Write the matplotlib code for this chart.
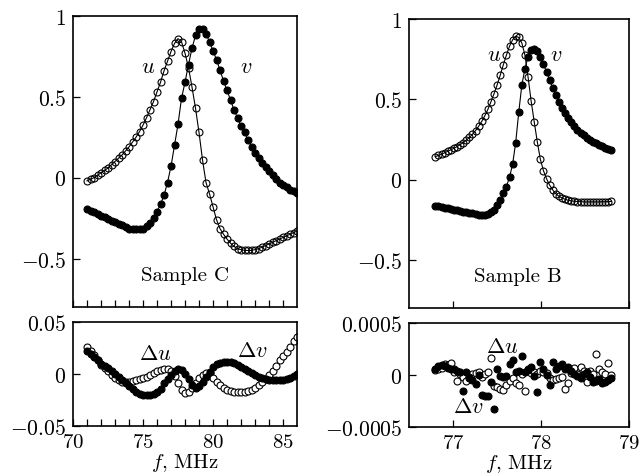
import numpy as np
import matplotlib
matplotlib.use('Agg')
import matplotlib.pyplot as plt

plt.rcParams['font.family'] = 'cmr10'
plt.rcParams['mathtext.fontset'] = 'cm'
plt.rcParams['axes.unicode_minus'] = False

# ---- Sample C (uniform frequency sweep, 0.25 MHz step) ----
f_C = np.linspace(71.0, 86.0, 61)
u_C = [-0.02, -0.01, 0.00, 0.015, 0.03, 0.045, 0.06, 0.08, 0.10, 0.12,
       0.14, 0.165, 0.19, 0.22, 0.25, 0.285, 0.325, 0.37, 0.42, 0.47,
       0.53, 0.59, 0.66, 0.72, 0.78, 0.83, 0.86, 0.84, 0.77, 0.68,
       0.56, 0.43, 0.28, 0.11, -0.03, -0.10, -0.18, -0.26, -0.315, -0.35,
       -0.38, -0.405, -0.425, -0.44, -0.445, -0.45, -0.45, -0.45, -0.445, -0.44,
       -0.43, -0.42, -0.41, -0.40, -0.39, -0.38, -0.37, -0.36, -0.35, -0.34,
       -0.33]
v_C = [-0.195, -0.205, -0.215, -0.225, -0.235, -0.245, -0.255, -0.265, -0.275, -0.285,
       -0.295, -0.305, -0.315, -0.32, -0.32, -0.32, -0.315, -0.30, -0.28, -0.25,
       -0.21, -0.165, -0.11, -0.03, 0.07, 0.20, 0.33, 0.49, 0.59, 0.70,
       0.80, 0.88, 0.92, 0.92, 0.89, 0.84, 0.785, 0.73, 0.665, 0.60,
       0.54, 0.48, 0.42, 0.37, 0.32, 0.28, 0.235, 0.19, 0.155, 0.12,
       0.09, 0.065, 0.04, 0.015, -0.01, -0.03, -0.045, -0.06, -0.075, -0.085,
       -0.095]
du_C = [0.026, 0.022, 0.018, 0.013, 0.009, 0.006, 0.003, -0.001, -0.004, -0.006,
        -0.0075, -0.008, -0.008, -0.007, -0.006, -0.005, -0.004, -0.003, -0.001, 0.001,
        0.003, 0.004, 0.005, 0.005, 0.003, -0.002, -0.009, -0.015, -0.018, -0.017,
        -0.013, -0.009, -0.004, -0.001, 0.001, 0.001, -0.004, -0.008, -0.011, -0.013,
        -0.015, -0.016, -0.017, -0.017, -0.017, -0.017, -0.016, -0.015, -0.013, -0.011,
        -0.008, -0.005, -0.001, 0.003, 0.008, 0.013, 0.017, 0.021, 0.026, 0.032,
        0.036]
dv_C = [0.022, 0.019, 0.016, 0.013, 0.010, 0.008, 0.006, 0.003, 0.000, -0.003,
        -0.006, -0.009, -0.012, -0.0145, -0.017, -0.019, -0.020, -0.020, -0.020, -0.019,
        -0.017, -0.014, -0.009, -0.005, -0.001, 0.003, 0.005, 0.004, 0.000, -0.005,
        -0.011, -0.013, -0.012, -0.008, -0.003, 0.002, 0.007, 0.0095, 0.011, 0.012,
        0.012, 0.012, 0.011, 0.009, 0.007, 0.005, 0.003, 0.001, -0.001, -0.0025,
        -0.004, -0.005, -0.006, -0.006, -0.006, -0.006, -0.0055, -0.005, -0.004, -0.002,
        0.000]

# ---- Sample B (uniform frequency sweep, ~0.035 MHz step) ----
f_B = np.linspace(76.80, 78.80, 58)
u_B = [0.143, 0.150, 0.158, 0.167, 0.176, 0.185, 0.195, 0.205, 0.217, 0.230,
       0.245, 0.262, 0.282, 0.305, 0.332, 0.362, 0.397, 0.437, 0.485, 0.535,
       0.590, 0.650, 0.715, 0.775, 0.830, 0.870, 0.893, 0.885, 0.850, 0.775,
       0.640, 0.490, 0.360, 0.235, 0.125, 0.055, 0.005, -0.035, -0.065, -0.088,
       -0.104, -0.115, -0.123, -0.129, -0.133, -0.135, -0.137, -0.138, -0.139, -0.139,
       -0.139, -0.139, -0.139, -0.139, -0.138, -0.138, -0.137, -0.136]
v_B = [-0.163, -0.167, -0.171, -0.175, -0.179, -0.183, -0.187, -0.191, -0.195, -0.199,
       -0.203, -0.207, -0.211, -0.215, -0.218, -0.220, -0.220, -0.214, -0.204, -0.188,
       -0.160, -0.125, -0.085, -0.045, 0.015, 0.095, 0.230, 0.420, 0.590, 0.690,
       0.765, 0.805, 0.815, 0.800, 0.765, 0.720, 0.670, 0.620, 0.570, 0.525,
       0.485, 0.448, 0.415, 0.385, 0.358, 0.333, 0.311, 0.292, 0.275, 0.260,
       0.247, 0.235, 0.225, 0.215, 0.206, 0.199, 0.193, 0.187]
du_B = [5e-5, 6e-5, 6.4e-5, 10.6e-5, 9.6e-5, 11.5e-5, 2.6e-5, -5.5e-5, 1e-5, -2e-5,
        -5.5e-5, -3e-5, 1e-5, 2e-5, 3.2e-5, -2.2e-5, 1e-5, 3.2e-5, 16e-5, -11e-5,
        -12e-5, -13.5e-5, -14e-5, -10e-5, -6e-5, -3e-5, -8e-5, -10e-5, 1e-5, -15e-5,
        5.8e-5, 2e-5, 3e-5, 1e-5, 4.2e-5, 3.2e-5, 2e-5, -3e-5, -4.5e-5, -4e-5,
        -3e-5, -2.2e-5, -13.5e-5, -7.7e-5, 2e-5, 6.4e-5, 1e-5, 7.4e-5, 4e-5, -7e-5,
        4.2e-5, 1e-5, 20e-5, 6e-5, 2.6e-5, 1e-5, 11.5e-5, 0.0]
dv_B = [5.8e-5, 9e-5, 9.6e-5, 8.4e-5, 6.4e-5, 5.8e-5, 5.8e-5, 4.2e-5, 3e-5, -15e-5,
        2.6e-5, -2e-5, -5e-5, -8.6e-5, 0.0, -19e-5, -20e-5, -20e-5, -7e-5, -33e-5,
        5.8e-5, -1e-5, -2e-5, -1e-5, 10.6e-5, 14e-5, 3e-5, 4.2e-5, 18.6e-5, 2.6e-5,
        5e-5, 7.4e-5, -0.6e-5, -16.6e-5, 12.8e-5, 5.8e-5, 0.0, -9.6e-5, 12.8e-5, 5.8e-5,
        9e-5, 10.6e-5, 5.8e-5, 7.4e-5, 4e-5, 1e-5, -0.6e-5, -3e-5, 1e-5, 2.6e-5,
        -2e-5, -6.4e-5, -5.5e-5, -4e-5, -7.7e-5, -6.4e-5, -5e-5, -3e-5]

FS = 15.5   # y tick labels
XS = 15     # x tick labels
TS = 15     # annotations
MS = 5.0
W, H = 641, 477


def box(x0, y0, x1, y1):
    # pixel box (top-left origin) -> figure fraction rect
    return [x0 / W, 1 - y1 / H, (x1 - x0) / W, (y1 - y0) / H]


def style(ax):
    for s in ax.spines.values():
        s.set_linewidth(1.2)
    ax.tick_params(which='both', direction='in', length=5, width=0.9,
                   labelsize=FS, top=False, right=False, pad=5)
    ax.tick_params(axis='x', labelsize=XS)


fig = plt.figure(figsize=(6.41, 4.77), dpi=100)

panels = [
    dict(rt=box(73, 17, 297, 308), rb=box(73, 323, 297, 427),
         f=f_C, u=u_C, v=v_C, du=du_C, dv=dv_C, xlim=(70, 86),
         minor=list(range(71, 86)), major=[70, 75, 80, 85], lim=0.05,
         name='Sample C', tpos=[(75.36, 0.69), (82.36, 0.69), (78.0, -0.60)],
         bpos=[(75.86, 0.0197), (82.8, 0.0226)], blab=['0.05', '0', '-0.05']),
    dict(rt=box(409, 20, 629, 309), rb=box(409, 324, 629, 428),
         f=f_B, u=u_B, v=v_B, du=du_B, dv=dv_B, xlim=(76.5, 79),
         minor=[], major=[77, 78, 79], lim=0.0005,
         name='Sample B', tpos=[(77.47, 0.78), (78.17, 0.78), (77.74, -0.60)],
         bpos=[(77.56, 0.00028), (77.17, -0.0003)], blab=['0.0005', '0', '-0.0005']),
]

for p in panels:
    ax = fig.add_axes(p['rt'])
    ax.plot(p['f'], p['u'], '-', color='k', lw=0.8, marker='o', ms=MS,
            mfc='none', mec='k', mew=0.8)
    ax.plot(p['f'], p['v'], '-', color='k', lw=0.8, marker='o', ms=MS,
            mfc='k', mec='k', mew=0.8)
    ax.set_xlim(*p['xlim'])
    ax.set_ylim(-0.8, 1.0)
    ax.set_xticks(p['major'])
    ax.set_xticks(p['minor'], minor=True)
    ax.set_xticklabels([])
    ax.set_yticks([-0.5, 0, 0.5, 1])
    ax.set_yticklabels([r'$-0.5$', r'$0$', r'$0.5$', r'$1$'])
    style(ax)
    ax.text(*p['tpos'][0], r'$u$', fontsize=TS + 1, ha='center', va='center')
    ax.text(*p['tpos'][1], r'$v$', fontsize=TS + 1, ha='center', va='center')
    ax.text(*p['tpos'][2], p['name'], fontsize=TS, ha='center', va='center')

    bx = fig.add_axes(p['rb'])
    bx.plot(p['f'], p['du'], 'o', ms=MS, mfc='white', mec='k', mew=0.8)
    bx.plot(p['f'], p['dv'], 'o', ms=MS, mfc='k', mec='k', mew=0.8)
    bx.set_xlim(*p['xlim'])
    bx.set_ylim(-p['lim'], p['lim'])
    bx.set_xticks(p['major'], labels=[r'$%d$' % t for t in p['major']])
    bx.set_xticks(p['minor'], minor=True)
    bx.set_yticks([p['lim'], 0, -p['lim']])
    bx.set_yticklabels([r'$%s$' % s for s in p['blab']])
    style(bx)
    bx.text(*p['bpos'][0], r'$\Delta u$', fontsize=TS + 1, ha='center', va='center')
    bx.text(*p['bpos'][1], r'$\Delta v$', fontsize=TS + 1, ha='center', va='center')
    bx.set_xlabel(r'$f$, MHz', fontsize=TS, labelpad=0)

fig.savefig('out.png', dpi=100)
